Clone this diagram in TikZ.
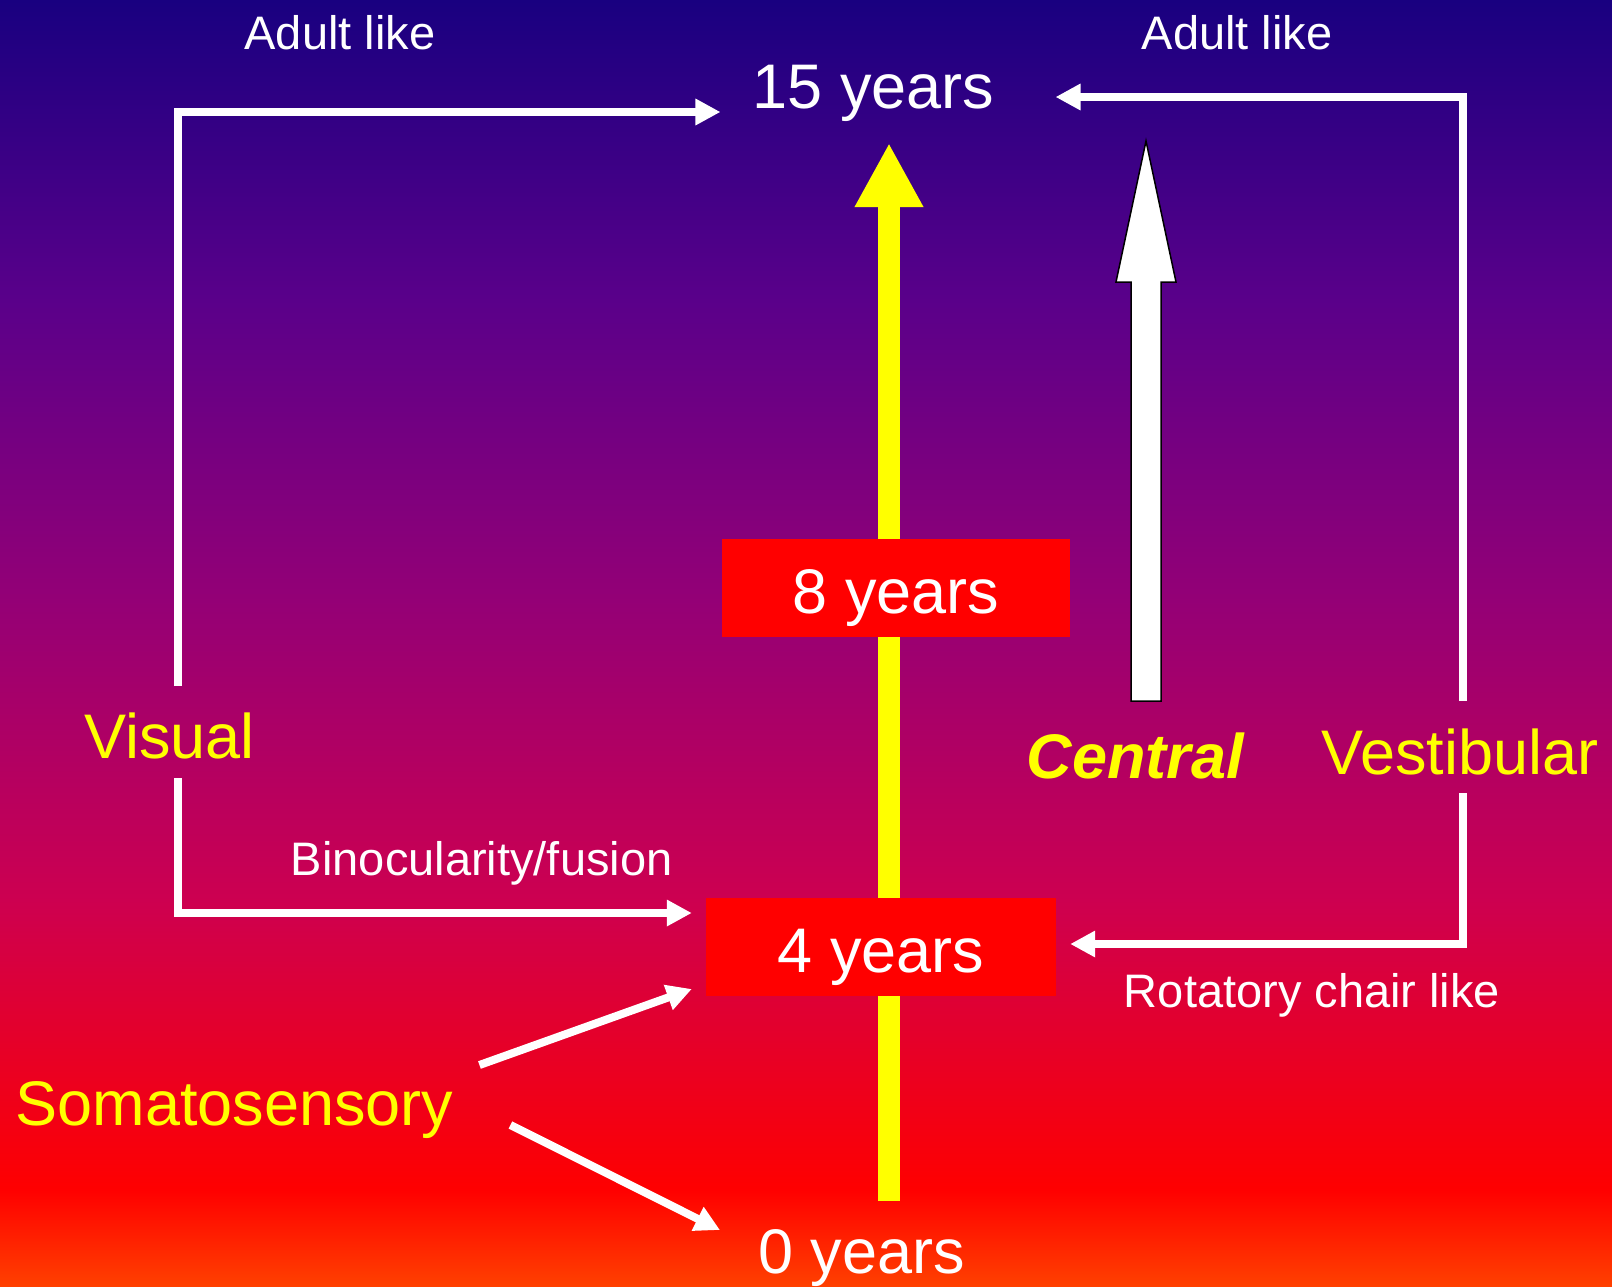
\documentclass[tikz,border=0pt]{standalone}
\usepackage{fontspec}
\setmainfont{Liberation Sans}
\usetikzlibrary{arrows.meta}
\definecolor{bgA}{RGB}{25,0,128}
\definecolor{bgB}{RGB}{90,0,138}
\definecolor{bgC}{RGB}{148,0,118}
\definecolor{bgD}{RGB}{205,0,80}
\definecolor{bgE}{RGB}{255,0,0}
\definecolor{bgF}{RGB}{255,64,0}
\definecolor{labyellow}{RGB}{255,255,0}
\begin{document}
\begin{tikzpicture}[x=1pt,y=-1pt,
  big/.style={font=\fontsize{63}{70}\selectfont, inner sep=0pt, anchor=base},
  small/.style={font=\fontsize{47}{54}\selectfont, inner sep=0pt, anchor=base, text=white},
  yearbox/.style={fill=red, text=white, font=\fontsize{63}{70}\selectfont, inner sep=0pt,
     text height=52pt, text depth=0pt, minimum height=98pt},
  conn/.style={draw=white, line width=8pt, -{Triangle[length=25pt,width=25pt]}},
  yarrow/.style={draw=labyellow, line width=22pt, -{Triangle[length=64pt,width=64pt]}}]
\useasboundingbox (0,0) rectangle (1612,1286);
% background gradient
\fill[top color=bgA,bottom color=bgB] (0,0) rectangle (1612,301);
\fill[top color=bgB,bottom color=bgC] (0,300) rectangle (1612,601);
\fill[top color=bgC,bottom color=bgD] (0,600) rectangle (1612,901);
\fill[top color=bgD,bottom color=bgE] (0,900) rectangle (1612,1191);
\fill[top color=bgE,bottom color=bgF] (0,1190) rectangle (1612,1286);

% text nodes
\node[small] (adultL) at (340,49) {Adult like};
\node[small] (adultR) at (1237,49) {Adult like};
\node[big,text=white] (y15) at (873.5,108) {15 years};
\node[big,text=labyellow] (visual) at (169.6,758) {Visual};
\node[big,text=labyellow] (vestibular) at (1460,774) {Vestibular};
\node[big,text=labyellow,font=\fontsize{63}{70}\selectfont\bfseries\itshape] (central) at (1135.5,778) {Central};
\node[small] (binoc) at (481.7,875.7) {Binocularity/fusion};
\node[small] (rotatory) at (1312,1007) {Rotatory chair like};
\node[big,text=labyellow] (soma) at (234.4,1125) {Somatosensory};
\node[big,text=white] (y0) at (861.5,1273) {0 years};

% yellow time axis
\draw[yarrow] ([shift={(27.5,-72)}]y0.base) -- ([shift={(15.5,35)}]y15.base);

% year boxes
\node[yearbox, minimum width=348pt] (y8) at (896,587.5) {8 years};
\node[yearbox, minimum width=350pt] (y4) at (881,946.5) {4 years};

% white block arrow (central)
\filldraw[fill=white, draw=black, line width=1.5pt, line join=miter]
  (1131,701) -- (1131,282) -- (1116,282) -- (1146,141) -- (1176,282) -- (1161,282) -- (1161,701) -- cycle;

% connectors
\draw[conn] ([shift={(8.4,-72)}]visual.base) |- ([shift={(-32,4)}]y15.base west);
\draw[conn] ([shift={(3,-73)}]vestibular.base) |- ([shift={(61,-11)}]y15.base east);
\draw[conn] ([shift={(8.4,20)}]visual.base) |- ([shift={(-14,-33.5)}]y4.west);
\draw[conn] ([shift={(3,19)}]vestibular.base) |- ([shift={(14,-2.5)}]y4.east);
\draw[conn] ([shift={(26,-60)}]soma.base east) -- ([shift={(-14,42.5)}]y4.west);
\draw[conn] ([shift={(57,0)}]soma.base east) -- ([shift={(-38,-43)}]y0.base west);
\end{tikzpicture}
\end{document}
